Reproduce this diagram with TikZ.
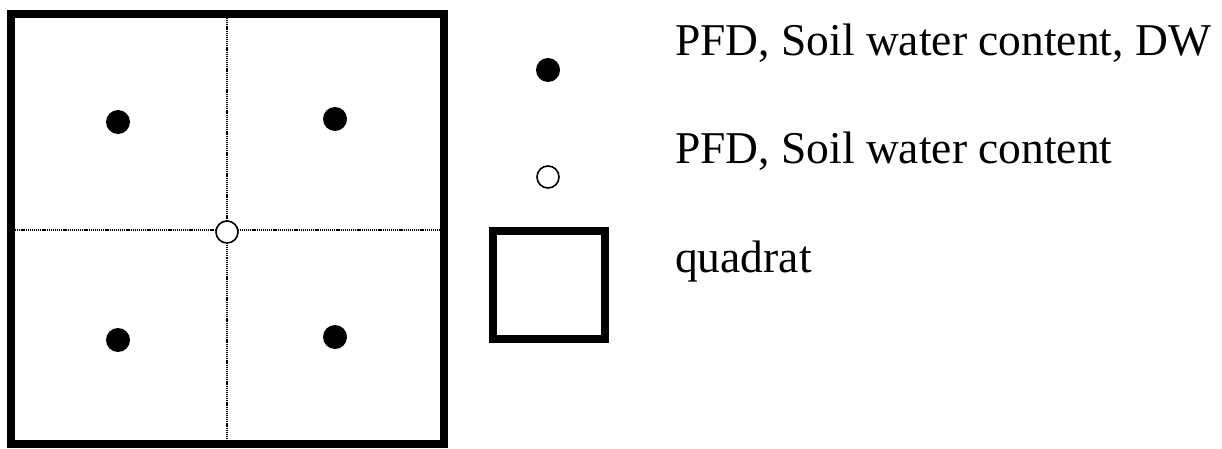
\documentclass[tikz,border=0pt]{standalone}
\usepackage{fontspec}
\setmainfont{Liberation Serif}
\begin{document}
\begin{tikzpicture}[x=1pt,y=-1pt,
  frame/.style={draw=black,line width=8pt},
  grid/.style={draw=black,line width=2pt,dash pattern=on 1.2pt off 0.9pt},
  fulldot/.style={circle,fill=black,inner sep=0pt,minimum size=24pt},
  opendot/.style={circle,draw=black,fill=white,line width=1.6pt,inner sep=0pt,minimum size=22pt},
  legendtext/.style={anchor=base west,inner sep=0pt,font=\fontsize{45.5}{54}\selectfont}]
\useasboundingbox (0,0) rectangle (1222,449);
% quadrat
\draw[frame] (11,14) rectangle (444,444);
\coordinate (top) at (227,18);
\coordinate (bot) at (227,440);
\coordinate (lft) at (15,230);
\coordinate (rgt) at (440,230);
\draw[grid] (top) -- (bot);
\draw[grid] (lft) -- (rgt);
\node[opendot] (c) at (227,232) {};
\node[fulldot] (d1) at (118,122) {};
\node[fulldot] (d2) at (335,119) {};
\node[fulldot] (d3) at (118,340) {};
\node[fulldot] (d4) at (335,337) {};
% legend
\node[fulldot] (l1) at (548,70) {};
\node[opendot] (l2) at (548,177) {};
\draw[frame] (493,231) rectangle (605,339);
\node[legendtext] (t1) at (675,56) {PFD, Soil water content, DW};
\node[legendtext] (t2) at (675,164) {PFD, Soil water content};
\node[legendtext] (t3) at (675,272) {quadrat};
\end{tikzpicture}
\end{document}
